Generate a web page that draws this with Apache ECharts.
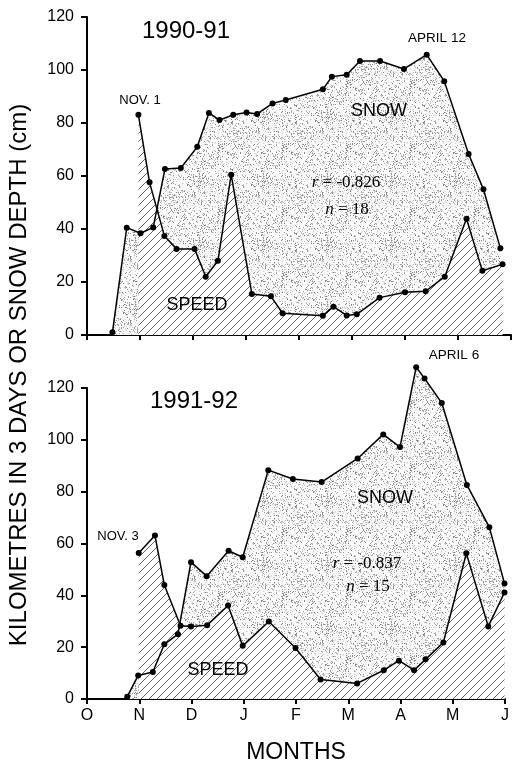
<!DOCTYPE html>
<html>
<head>
<meta charset="utf-8">
<script src="https://cdn.jsdelivr.net/npm/echarts@6/dist/echarts.min.js"></script>
<style>
  html, body { margin: 0; padding: 0; background: #fff; }
  #chart { width: 512px; height: 765px; }
</style>
</head>
<body>
<div id="chart"></div>
<script>
// x values are months counted from 1 October (0 = O, 1 = N, ... 8 = J)
const monthLabels = ['O', 'N', 'D', 'J', 'F', 'M', 'A', 'M', 'J']
const yTicks = [0, 20, 40, 60, 80, 100, 120]

// 1990-91
const snowX1 = [0.48, 0.75, 1.01, 1.25, 1.47, 1.77, 2.08, 2.30, 2.50, 2.76, 3.01, 3.21, 3.50, 3.75, 4.45, 4.62, 4.90, 5.15, 5.53, 5.98, 6.41, 6.74, 7.20, 7.48, 7.80]
const snowY1 = [1, 40.5, 38.4, 40.6, 62.6, 63, 71, 83.8, 81.1, 83.1, 84, 83.4, 87.4, 88.7, 92.7, 97.5, 98.2, 103.4, 103.4, 100.4, 105.8, 95.8, 68.3, 55, 32.7]
const speedX1 = [0.97, 1.18, 1.46, 1.69, 2.03, 2.24, 2.47, 2.72, 3.11, 3.47, 3.69, 4.45, 4.65, 4.90, 5.09, 5.52, 6.00, 6.39, 6.75, 7.16, 7.46, 7.84]
const speedY1 = [83.1, 57.6, 37.4, 32.5, 32.5, 22.0, 28.0, 60.5, 15.5, 14.6, 8.2, 7.3, 10.7, 7.4, 7.8, 14.1, 16.1, 16.5, 22.0, 43.9, 24.2, 26.7]

// 1991-92
const snowX2 = [0.77, 0.98, 1.26, 1.48, 1.74, 1.99, 2.29, 2.71, 2.98, 3.47, 3.94, 4.49, 5.18, 5.67, 5.99, 6.30, 6.46, 6.79, 7.27, 7.70, 7.99]
const snowY2 = [0.9, 9.1, 10.4, 21.1, 25.0, 52.8, 47.4, 57.2, 54.7, 88.3, 84.9, 83.7, 92.8, 102.1, 97.2, 128.0, 123.7, 114.2, 82.6, 66.3, 44.6]
const speedX2 = [0.99, 1.30, 1.48, 1.79, 1.99, 2.30, 2.70, 2.98, 3.48, 3.99, 4.47, 5.17, 5.68, 5.97, 6.26, 6.48, 6.82, 7.26, 7.68, 7.99]
const speedY2 = [56.3, 63.1, 44.0, 28.3, 28.0, 28.5, 36.1, 20.5, 29.9, 19.7, 7.5, 6.0, 11.1, 14.8, 11.1, 15.3, 21.8, 56.2, 28.0, 41.1]

const pairs = (xs, ys) => xs.map((x, i) => [x, ys[i]])

/**
 * fill textures: grey stipple for snow, diagonal hatching for speed
 */
const makeStipple = () => {
  const c = document.createElement('canvas')
  c.width = c.height = 64
  const ctx = c.getContext('2d')
  ctx.fillStyle = '#fafafa'
  ctx.fillRect(0, 0, 64, 64)
  let seed = 12345
  const rnd = () => (seed = (seed * 16807) % 2147483647) / 2147483647
  for (let y = 0; y < 64; y++) {
    for (let x = 0; x < 64; x++) {
      if (rnd() < 0.24) {
        const g = Math.floor(120 + rnd() * 110)
        ctx.fillStyle = `rgb(${g},${g},${g})`
        ctx.fillRect(x, y, 1, 1)
      }
    }
  }
  return c
}
const makeHatch = () => {
  const s = 8
  const c = document.createElement('canvas')
  c.width = c.height = s
  const ctx = c.getContext('2d')
  ctx.fillStyle = '#fff'
  ctx.fillRect(0, 0, s, s)
  ctx.strokeStyle = '#666'
  ctx.lineWidth = 1
  ctx.beginPath()
  ctx.moveTo(-1, s + 1); ctx.lineTo(s + 1, -1)
  ctx.moveTo(-1, 1); ctx.lineTo(1, -1)
  ctx.moveTo(s - 1, s + 1); ctx.lineTo(s + 1, s - 1)
  ctx.stroke()
  return c
}
const stipple = { image: makeStipple(), repeat: 'repeat' }
const hatch = { image: makeHatch(), repeat: 'repeat' }

const font = '"Liberation Sans", Arial, sans-serif'
const serif = '"Liberation Serif", "Times New Roman", serif'

const mChart = echarts.init(document.getElementById('chart'))

const xAxisBase = (gridIndex, showLabel) => ({
  gridIndex,
  type: 'value',
  min: 0,
  max: 8,
  interval: 1,
  axisLine: { lineStyle: { color: '#000', width: 2 } },
  axisTick: { length: 5, lineStyle: { color: '#000', width: 2 } },
  splitLine: { show: false },
  axisLabel: {
    show: showLabel,
    formatter: (v) => monthLabels[v],
    color: '#000',
    fontFamily: font,
    fontSize: 16,
    margin: 9,
    showMaxLabel: true
  }
})
const yAxisBase = (gridIndex) => ({
  gridIndex,
  type: 'value',
  min: yTicks[0],
  max: yTicks[yTicks.length - 1],
  interval: 20,
  axisLine: { show: true, lineStyle: { color: '#000', width: 2 } },
  axisTick: { show: true, length: 6, lineStyle: { color: '#000', width: 2 } },
  splitLine: { show: false },
  axisLabel: { color: '#000', fontFamily: font, fontSize: 16, margin: 13 }
})

const areaSeries = (idx, data, fill, z) => ({
  type: 'line',
  xAxisIndex: idx,
  yAxisIndex: idx,
  data,
  clip: false,
  showSymbol: false,
  symbol: 'none',
  lineStyle: { width: 0, opacity: 0 },
  areaStyle: { color: fill, opacity: 1 },
  silent: true,
  z
})
const lineSeries = (idx, data) => ({
  type: 'line',
  xAxisIndex: idx,
  yAxisIndex: idx,
  data,
  clip: false,
  symbol: 'circle',
  symbolSize: 6,
  itemStyle: { color: '#000' },
  lineStyle: { color: '#000', width: 1.5 },
  z: 5
})

const label = (x, y, text, size, extra = {}) => ({
  type: 'text',
  x,
  y,
  z: 100,
  style: Object.assign({
    text,
    fill: '#000',
    fontFamily: font,
    fontSize: size,
    align: 'center',
    verticalAlign: 'middle'
  }, extra)
})
const stat = (x, y, sym, val) => label(x, y, `{i|${sym}} = ${val}`, 17, {
  fontFamily: serif,
  rich: { i: { fontStyle: 'italic', fontFamily: serif, fontSize: 17 } }
})

const options = {
  animation: false,
  backgroundColor: '#fff',
  grid: [
    { left: 87, right: 1, top: 17, height: 318 },
    { left: 87, right: 1, top: 388, height: 317 }
  ],
  xAxis: [
    xAxisBase(0, false),
    Object.assign(xAxisBase(1, true), {
      name: 'MONTHS',
      nameLocation: 'middle',
      nameGap: 42,
      nameTextStyle: { color: '#000', fontFamily: font, fontSize: 23 }
    })
  ],
  yAxis: [yAxisBase(0), yAxisBase(1)],
  series: [
    areaSeries(0, pairs(snowX1, snowY1), stipple, 1),
    areaSeries(0, pairs(speedX1, speedY1), hatch, 2),
    lineSeries(0, pairs(snowX1, snowY1)),
    lineSeries(0, pairs(speedX1, speedY1)),
    areaSeries(1, pairs(snowX2, snowY2), stipple, 1),
    areaSeries(1, pairs(speedX2, speedY2), hatch, 2),
    lineSeries(1, pairs(snowX2, snowY2)),
    lineSeries(1, pairs(speedX2, speedY2))
  ],
  graphic: [
    // shared y axis title
    label(19, 375, 'KILOMETRES IN 3 DAYS OR SNOW DEPTH (cm)', 24, {}),
    // top panel
    label(186, 31, '1990-91', 24),
    label(140, 100, 'NOV. 1', 13),
    label(437, 38, 'APRIL 12', 13.5),
    label(379, 111, 'SNOW', 18),
    label(197, 305, 'SPEED', 18),
    stat(346, 183, 'r', '-0.826'),
    stat(347, 210, 'n', '18'),
    // bottom panel
    label(194, 401, '1991-92', 24),
    label(118, 536, 'NOV. 3', 13),
    label(454, 355, 'APRIL 6', 13.5),
    label(385, 498, 'SNOW', 18),
    label(218, 670, 'SPEED', 18),
    stat(367, 564, 'r', '-0.837'),
    stat(368, 587, 'n', '15')
  ]
}
options.graphic[0].rotation = Math.PI / 2
mChart.setOption(options)
</script>
</body>
</html>
